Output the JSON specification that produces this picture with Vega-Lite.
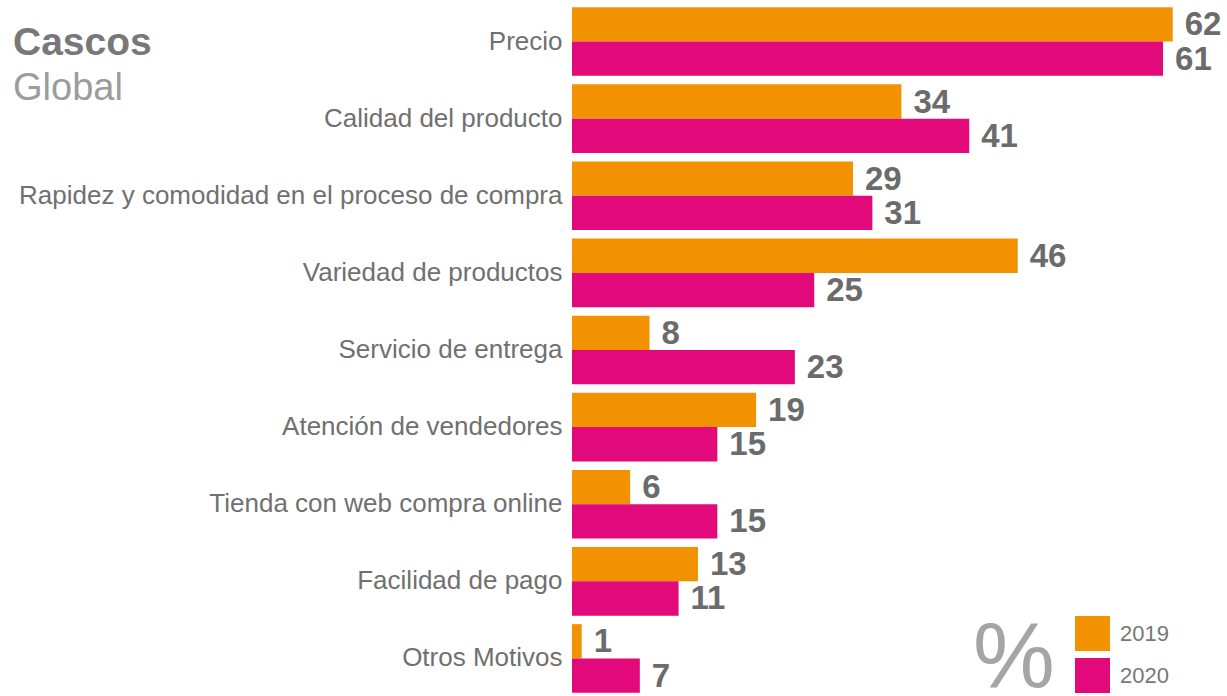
{
  "$schema": "https://vega.github.io/schema/vega-lite/v6.json",
  "autosize": {"type": "none"},
  "width": 655,
  "height": 694,
  "padding": {"left": 572, "top": 3, "right": 0, "bottom": 0},
  "background": "white",
  "config": {
    "font": "Liberation Sans",
    "view": {"stroke": null}
  },
  "title": {
    "text": "Cascos",
    "subtitle": "Global",
    "anchor": "start",
    "frame": "group",
    "orient": "top",
    "dx": -559,
    "dy": 109,
    "font": "Liberation Sans",
    "fontSize": 39,
    "fontWeight": "bold",
    "color": "#787878",
    "subtitleFont": "Liberation Sans",
    "subtitleFontSize": 38,
    "subtitleFontWeight": "normal",
    "subtitleColor": "#9c9c9c",
    "subtitlePadding": 7
  },
  "data": {
    "values": [
      {"motivo": "Precio", "year": "2019", "value": 62},
      {"motivo": "Precio", "year": "2020", "value": 61},
      {"motivo": "Calidad del producto", "year": "2019", "value": 34},
      {"motivo": "Calidad del producto", "year": "2020", "value": 41},
      {"motivo": "Rapidez y comodidad en el proceso de compra", "year": "2019", "value": 29},
      {"motivo": "Rapidez y comodidad en el proceso de compra", "year": "2020", "value": 31},
      {"motivo": "Variedad de productos", "year": "2019", "value": 46},
      {"motivo": "Variedad de productos", "year": "2020", "value": 25},
      {"motivo": "Servicio de entrega", "year": "2019", "value": 8},
      {"motivo": "Servicio de entrega", "year": "2020", "value": 23},
      {"motivo": "Atención de vendedores", "year": "2019", "value": 19},
      {"motivo": "Atención de vendedores", "year": "2020", "value": 15},
      {"motivo": "Tienda con web compra online", "year": "2019", "value": 6},
      {"motivo": "Tienda con web compra online", "year": "2020", "value": 15},
      {"motivo": "Facilidad de pago", "year": "2019", "value": 13},
      {"motivo": "Facilidad de pago", "year": "2020", "value": 11},
      {"motivo": "Otros Motivos", "year": "2019", "value": 1},
      {"motivo": "Otros Motivos", "year": "2020", "value": 7}
    ]
  },
  "encoding": {
    "y": {
      "field": "motivo",
      "type": "nominal",
      "sort": null,
      "scale": {"paddingInner": 0.11, "paddingOuter": 0.055},
      "axis": {
        "title": null,
        "domain": false,
        "ticks": false,
        "labelFontSize": 26,
        "labelColor": "#707070",
        "labelPadding": 10,
        "labelLimit": 0,
        "labelFont": "Liberation Sans"
      }
    },
    "yOffset": {"field": "year", "type": "nominal", "sort": ["2019", "2020"], "scale": {"paddingInner": 0, "paddingOuter": 0}},
    "x": {
      "field": "value",
      "type": "quantitative",
      "scale": {"domain": [0, 67.6], "nice": false},
      "axis": null
    }
  },
  "layer": [
    {
      "mark": {"type": "bar"},
      "encoding": {
        "color": {
          "field": "year",
          "type": "nominal",
          "scale": {"domain": ["2019", "2020"], "range": ["#F39200", "#E2097A"]},
          "legend": {
            "orient": "none",
            "legendX": 401,
            "legendY": 613,
            "padding": 0,
            "title": "%",
            "titleOrient": "left",
            "titleAnchor": "end",
            "titleFontSize": 92,
            "titleFontWeight": "normal",
            "titleColor": "#a5a5a5",
            "titleFont": "Liberation Sans",
            "titlePadding": 20,
            "titleBaseline": "line-bottom",
            "titleLineHeight": 66,
            "symbolType": "square",
            "symbolSize": 1225,
            "symbolStrokeWidth": 0,
            "symbolOpacity": 1,
            "labelFontSize": 22,
            "labelColor": "#777777",
            "labelOffset": 10,
            "labelFont": "Liberation Sans",
            "rowPadding": 7
          }
        }
      }
    },
    {
      "mark": {"type": "text", "align": "left", "baseline": "middle", "dx": 12, "dy": 1, "fontSize": 33, "fontWeight": "bold", "color": "#6b6b6b", "font": "Liberation Sans"},
      "encoding": {
        "text": {"field": "value", "type": "quantitative"}
      }
    }
  ]
}
